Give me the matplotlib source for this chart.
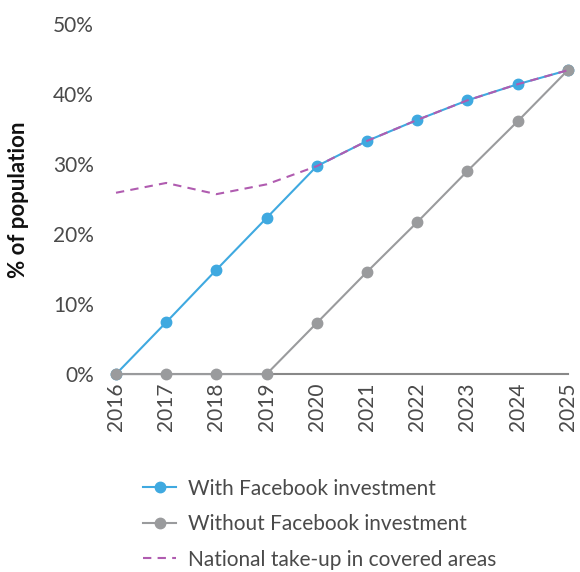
import matplotlib
matplotlib.use("Agg")
import matplotlib.pyplot as plt

years = [2016, 2017, 2018, 2019, 2020, 2021, 2022, 2023, 2024, 2025]
with_fb = [0, 7.4, 14.9, 22.3, 29.7, 33.3, 36.3, 39.1, 41.4, 43.4]
without_fb = [0, 0, 0, 0, 7.3, 14.6, 21.7, 29.0, 36.1, 43.4]
national = [25.9, 27.3, 25.7, 27.1, 29.7, 33.3, 36.3, 39.1, 41.4, 43.4]
yticks = [0, 10, 20, 30, 40, 50]
ytick_labels = ["0%", "10%", "20%", "30%", "40%", "50%"]

plt.rcParams['font.family'] = ['Lato', 'DejaVu Sans']

fig = plt.figure(figsize=(5.8, 5.72), dpi=100)
ax = fig.add_axes([0.2, 0.346, 0.779, 0.612])

blue = '#3fa9e0'
grey = '#9a9b9d'
mag = '#b05cb0'
txt = '#4a4a4a'

ax.plot(years, with_fb, color=blue, lw=1.5, marker='o', ms=7.5, label='With Facebook investment', clip_on=False, zorder=3)
ax.plot(years, without_fb, color=grey, lw=1.5, marker='o', ms=7.5, label='Without Facebook investment', clip_on=False, zorder=4)
ax.plot(years, national, color=mag, lw=1.5, ls=(0, (4, 3)), label='National take-up in covered areas', clip_on=False, zorder=5)

ax.set_xlim(2016, 2025)
ax.set_ylim(0, 50)
ax.set_yticks(yticks)
ax.set_yticklabels(ytick_labels)
ax.set_xticks(years)
ax.set_xticklabels([str(y) for y in years], rotation=90)
ax.tick_params(length=0, labelsize=15, labelcolor=txt)
ax.tick_params(axis='x', pad=6)
ax.tick_params(axis='y', pad=16)
for s in ['top', 'right', 'left']:
    ax.spines[s].set_visible(False)
ax.spines['bottom'].set_color('#888888')
ax.spines['bottom'].set_linewidth(1.5)
ax.spines['bottom'].set_zorder(1)

fig.text(0.032, 0.65, '% of population', rotation=90, ha='center', va='center', fontsize=16, fontweight='bold', color='#111111')

leg = fig.legend(loc='upper left', bbox_to_anchor=(0.232, 0.178), frameon=False, fontsize=15, handlelength=1.6, labelspacing=0.75, handletextpad=0.55, borderaxespad=0)
for t in leg.get_texts():
    t.set_color(txt)

fig.savefig('out.png', dpi=100)
